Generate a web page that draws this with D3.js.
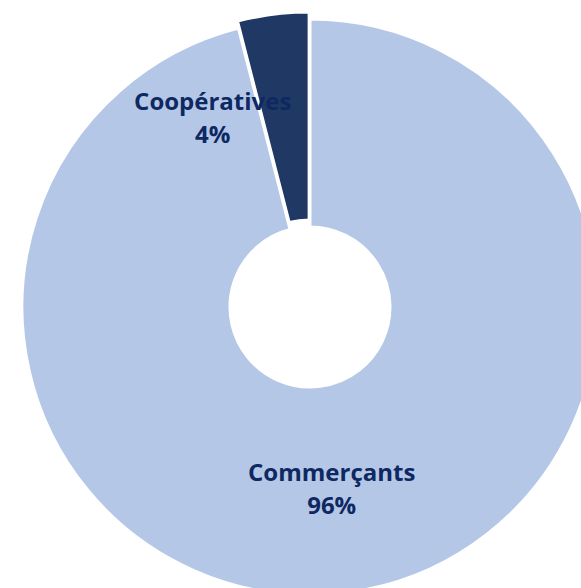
<!DOCTYPE html>
<html>
<head>
<meta charset="utf-8">
<script src="https://cdn.jsdelivr.net/npm/d3@7"></script>
<style>
  html, body { margin: 0; padding: 0; background: #fff; overflow: hidden; }
</style>
</head>
<body>
<svg id="donut" width="581" height="588"></svg>
<script>
const categories = ["Coopératives", "Commerçants"];
const values = [4, 96];
const colors = ["#203864", "#B4C7E7"];

// label placement (polar, relative to centre) and explode offset per slice
const labelPolar = [{ r: 218, a: -26.5 }, { r: 178, a: 173 }];
const explode = [7, 0];

const width = 581, height = 588;
const cx = 310, cy = 307;
const outerR = 288, innerR = 80;

const svg = d3.select("#donut");
const g = svg.append("g").attr("transform", `translate(${cx},${cy})`);

const data = categories.map((c, i) => ({ name: c, value: values[i], i }));

// Coopératives slice ends at 12 o'clock, going counter-clockwise
const pie = d3.pie()
  .value((d) => d.value)
  .sort(null)
  .startAngle(-values[0] / 100 * 2 * Math.PI)
  .endAngle(2 * Math.PI - values[0] / 100 * 2 * Math.PI);

const arc = d3.arc().innerRadius(innerR).outerRadius(outerR);
const arcs = pie(data);

g.selectAll("path")
  .data(arcs)
  .join("path")
  .attr("d", arc)
  .attr("fill", (d) => colors[d.data.i])
  .attr("stroke", "#fff")
  .attr("stroke-width", 3)
  .attr("stroke-linejoin", "miter")
  .attr("transform", (d) => {
    const mid = (d.startAngle + d.endAngle) / 2;
    const e = explode[d.data.i];
    return `translate(${e * Math.sin(mid)},${-e * Math.cos(mid)})`;
  });

// Labels
const labels = g.selectAll("text.lbl")
  .data(arcs)
  .join("text")
  .attr("class", "lbl")
  .attr("text-anchor", "middle")
  .style("font-family", "'Open Sans', sans-serif")
  .style("font-weight", "bold")
  .style("font-size", "24px")
  .style("fill", "#0E2861")
  .attr("transform", (d) => {
    const p = labelPolar[d.data.i];
    const a = p.a * Math.PI / 180;
    return `translate(${p.r * Math.sin(a)},${-p.r * Math.cos(a)})`;
  });

labels.append("tspan")
  .attr("x", 0)
  .attr("dy", "-0.1em")
  .text((d) => d.data.name);
labels.append("tspan")
  .attr("x", 0)
  .attr("dy", "1.38em")
  .text((d) => d.data.value + "%");
</script>
</body>
</html>
